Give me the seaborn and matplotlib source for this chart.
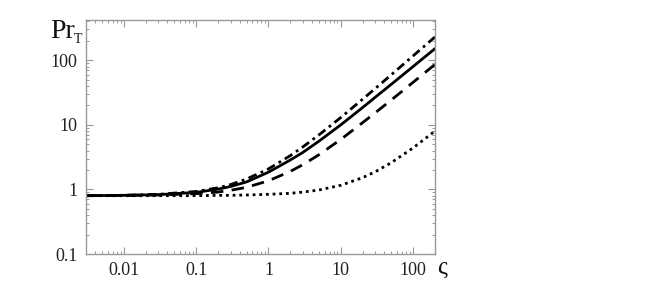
import numpy as np
import pandas as pd
import matplotlib
matplotlib.use("Agg")
import matplotlib.pyplot as plt
import matplotlib.ticker as mticker
import seaborn as sns

# values (log-log)
sigma = [0.003, 0.01, 0.03, 0.1, 0.2, 0.3, 0.5, 1, 2, 3, 5, 10, 20, 30, 50, 100, 200]
pr_dashdot = [0.80, 0.81, 0.84, 0.93, 1.06, 1.19, 1.45, 2.08, 3.33, 4.57, 7.0, 13.0, 24.9, 36.6, 59.7, 117, 229]
pr_solid = [0.80, 0.81, 0.83, 0.90, 1.01, 1.11, 1.31, 1.85, 2.85, 3.75, 5.6, 10.0, 18.5, 26.8, 42.5, 80, 151]
pr_dashed = [0.80, 0.81, 0.82, 0.86, 0.91, 0.97, 1.08, 1.36, 1.90, 2.42, 3.45, 5.95, 10.8, 15.4, 24.3, 45.6, 86]
pr_dotted = [0.80, 0.80, 0.80, 0.80, 0.81, 0.81, 0.82, 0.84, 0.87, 0.91, 0.98, 1.16, 1.52, 1.88, 2.6, 4.4, 8.0]

xticks = [0.01, 0.1, 1, 10, 100]
xticklabels = ["0.01", "0.1", "1", "10", "100"]
yticks = [0.1, 1, 10, 100]
yticklabels = ["0.1", "1", "10", "100"]

curves = {"dashdot": pr_dashdot, "solid": pr_solid, "dashed": pr_dashed, "dotted": pr_dotted}
df = pd.concat(
    [pd.DataFrame({"sigma": sigma, "pr": v, "curve": k}) for k, v in curves.items()],
    ignore_index=True,
)

sns.set_style("ticks")
plt.rcParams["font.family"] = ["Liberation Serif", "DejaVu Serif"]

fig = plt.figure(figsize=(6.54, 2.88), dpi=100)
ax = fig.add_axes([0.1315, 0.118, 0.5335, 0.8126])

sns.lineplot(
    data=df, x="sigma", y="pr", style="curve", ax=ax,
    color="black", linewidth=2.0, legend=False,
    dashes={"dashdot": (3.2, 1.6, 1.0, 1.6), "solid": "", "dashed": (4.5, 3.0), "dotted": (1.0, 1.4)},
)

ax.set_xscale("log")
ax.set_yscale("log")
ax.set_xlim(0.003, 200)
ax.set_ylim(0.1, 420)

ax.xaxis.set_major_locator(mticker.FixedLocator(xticks))
ax.xaxis.set_major_formatter(mticker.FixedFormatter(xticklabels))
ax.yaxis.set_major_locator(mticker.FixedLocator(yticks))
ax.yaxis.set_major_formatter(mticker.FixedFormatter(yticklabels))
ax.xaxis.set_minor_locator(mticker.LogLocator(base=10, subs=np.arange(2, 10), numticks=20))
ax.yaxis.set_minor_locator(mticker.LogLocator(base=10, subs=np.arange(2, 10), numticks=20))
ax.xaxis.set_minor_formatter(mticker.NullFormatter())
ax.yaxis.set_minor_formatter(mticker.NullFormatter())

frame = "#999999"
for s in ax.spines.values():
    s.set_color(frame)
    s.set_linewidth(1.0)
ax.tick_params(which="both", direction="in", top=True, right=True, color=frame, labelsize=13, labelcolor="#222222")
ax.tick_params(which="major", length=5, width=0.8, pad=6)
ax.tick_params(which="minor", length=2.5, width=0.7)

ax.set_xlabel("")
ax.set_ylabel("")
# axis labels: Pr with small subscript T, and sigma at the end of the x axis
fig.text(0.076, 0.868, "Pr", fontsize=20, color="#111111")
fig.text(0.113, 0.852, "T", fontsize=10, color="#111111")
fig.text(0.668, 0.05, "ς", fontsize=18, color="#111111")

fig.savefig("out.png", dpi=100)
